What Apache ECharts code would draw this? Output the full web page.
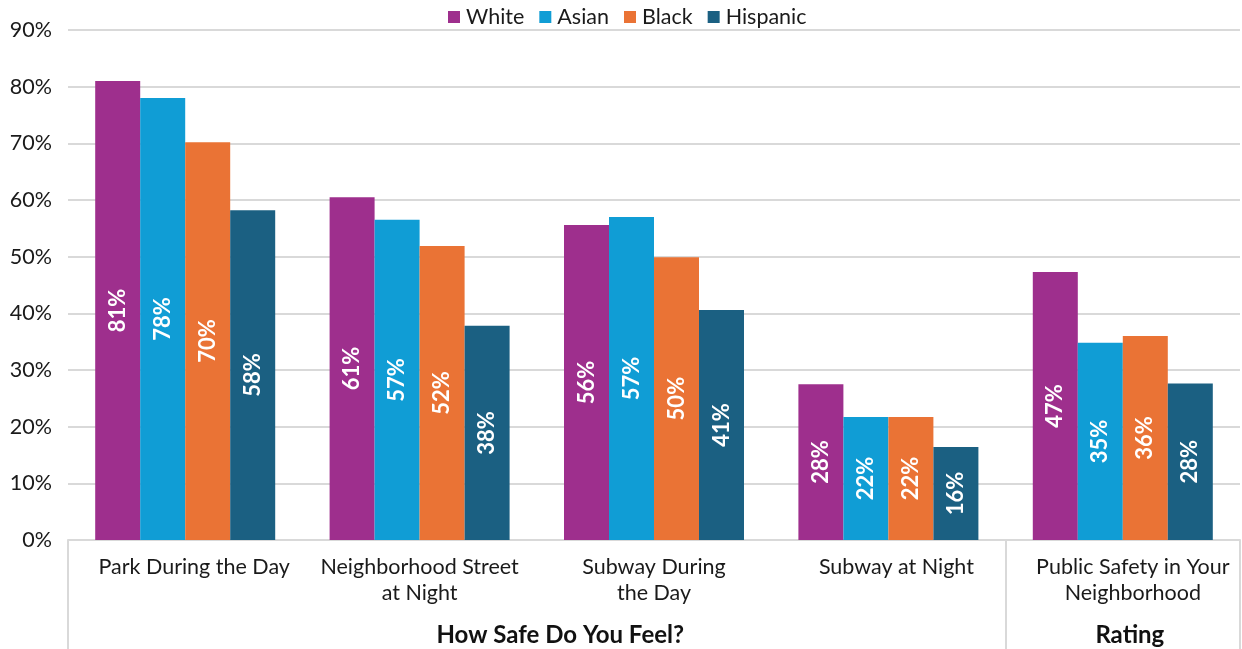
<!DOCTYPE html>
<html>
<head>
<meta charset="utf-8">
<script src="https://cdn.jsdelivr.net/npm/echarts@6/dist/echarts.min.js"></script>
<style>html,body{margin:0;padding:0;background:#fff;}#chart{width:1242px;height:649px;}</style>
</head>
<body>
<div id="chart"></div>
<script>
const categories = ["Park During the Day", "Neighborhood Street\nat Night", "Subway During\nthe Day", "Subway at Night", "Public Safety in Your\nNeighborhood"];
const groupLabels = ["How Safe Do You Feel?", "Rating"];
const seriesNames = ["White", "Asian", "Black", "Hispanic"];
const white = [81.0, 60.5, 55.6, 27.5, 47.3];
const asian = [78.0, 56.5, 57.0, 21.7, 34.8];
const black = [70.2, 51.9, 49.9, 21.7, 36.0];
const hispanic = [58.2, 37.8, 40.6, 16.4, 27.6];
const seriesData = [white, asian, black, hispanic];

// layout / style (not data)
const colors = ["#9E2F8D", "#109DD5", "#EA7335", "#1B6082"];
const groupBounds = [0, 4, 5];
const groupLabelPos = [2.1, 4.53];
const catLabelPadLeft = [18, 0, 0, 16, 20];

const chart = echarts.init(document.getElementById('chart'), null, {renderer: 'canvas'});
const font = 'Lato, "Open Sans", sans-serif';
const fs = 21.5;
chart.setOption({
  animation: false,
  textStyle: {fontFamily: font},
  legend: {
    top: 1, left: 443,
    itemWidth: 12, itemHeight: 12, itemGap: 15,
    icon: 'rect',
    textStyle: {fontSize: fs, color: '#1a1a1a', fontFamily: font, padding: [0, 0, 0, 1]},
    data: seriesNames
  },
  grid: {left: 68, right: 2, top: 30, bottom: 109, containLabel: false},
  xAxis: [{
    type: 'category',
    data: categories.map((c, i) => ({value: c, textStyle: {padding: [0, 0, 0, catLabelPadLeft[i]]}})),
    axisLine: {show: true, lineStyle: {color: '#d9d9d9', width: 2}},
    axisTick: {show: false},
    axisLabel: {interval: 0, fontSize: fs, lineHeight: 26, color: '#1a1a1a', margin: 14, fontFamily: font}
  }, {
    type: 'value', min: 0, max: 5, position: 'bottom',
    axisLine: {show: false},
    splitLine: {show: false},
    axisTick: {show: true, customValues: groupBounds, length: 109, lineStyle: {color: '#d9d9d9', width: 2}},
    axisLabel: {customValues: groupLabelPos, margin: 83, fontSize: 24, fontWeight: 'bold', color: '#111', fontFamily: font,
      formatter: v => groupLabels[groupLabelPos.indexOf(v)]}
  }],
  yAxis: {
    type: 'value', min: 0, max: 90, interval: 10,
    axisLine: {show: false}, axisTick: {show: false},
    axisLabel: {formatter: '{value}%', fontSize: fs, color: '#1a1a1a', margin: 16, fontFamily: font},
    splitLine: {lineStyle: {color: '#d9d9d9', width: 2}}
  },
  series: seriesNames.map((n, i) => ({
    name: n, type: 'bar', data: seriesData[i],
    barWidth: 45, barGap: '0%',
    itemStyle: {color: colors[i]},
    label: {show: true, position: 'inside', rotate: 90, color: '#fff', fontSize: 22, fontWeight: 'bold', fontFamily: font,
      formatter: p => Math.round(p.value) + '%'}
  }))
});
</script>
</body>
</html>
